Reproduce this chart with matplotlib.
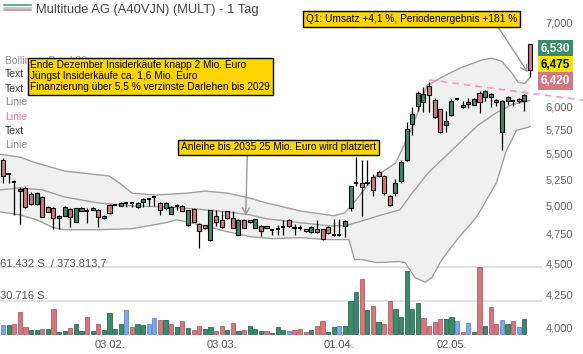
import numpy as np
import matplotlib.pyplot as plt
from matplotlib import transforms
from matplotlib.ticker import NullLocator

plt.rcParams['font.family'] = ['Liberation Sans', 'DejaVu Sans']

# daily candles, 95 sessions (06.01. - 22.05.)
opens = [5440, 5300, 5225, 5140, 5167, 5110, 5018, 5082, 4991, 4982,
         4892, 4910, 4973, 4857, 4955, 4955, 4964, 4964, 4892, 5010,
         5010, 5000, 5030, 5030, 4991, 5040, 5065, 5085, 5030, 4985,
         4928, 4997, 5000, 4830, 4973, 4840, 4825, 4695, 4910, 4874,
         4950, 4890, 4743, 4874, 4868, 4803, 4820, 4815, 4785, 4790,
         4810, 4874, 4800, 4800, 4790, 4765, 4790, 4790, 4810, 4740,
         4740, 4820, 4980, 5210, 5215, 5210, 5270, 5320, 5280, 5090,
         5115, 5235, 5438, 5813, 6010, 6050, 6230, 6075, 5970, 5805,
         5910, 6080, 5995, 6030, 6020, 6155, 6110, 6100, 6055, 5725,
         6060, 6065, 6085, 6065, 6725]
highs = [5460, 5305, 5245, 5175, 5185, 5125, 5130, 5095, 5000, 4990,
         4915, 4995, 4980, 4985, 4990, 4985, 4990, 4970, 4915, 5015,
         5015, 5035, 5035, 5035, 5035, 5070, 5068, 5090, 5035, 5035,
         4995, 5020, 5010, 4960, 4980, 4845, 4830, 4960, 4964, 4955,
         4955, 4950, 4880, 4880, 4872, 4885, 4825, 4820, 4790, 4830,
         4870, 4880, 4840, 4830, 4795, 4815, 4870, 4795, 4815, 4885,
         4885, 4870, 5190, 5471, 5440, 5440, 5300, 5340, 5290, 5100,
         5250, 5440, 5830, 5995, 6175, 6215, 6280, 6090, 5975, 5955,
         6080, 6090, 6060, 6095, 6095, 6175, 6185, 6150, 6080, 6075,
         6115, 6075, 6090, 6135, 6735]
lows = [5215, 5215, 4920, 4840, 4983, 5010, 5010, 4895, 4940, 4795,
        4795, 4905, 4812, 4850, 4950, 4848, 4960, 4812, 4885, 4930,
        5005, 4995, 4990, 4990, 4985, 4990, 5000, 5000, 4915, 4960,
        4925, 4960, 4950, 4815, 4850, 4624, 4795, 4690, 4815, 4805,
        4885, 4800, 4740, 4800, 4845, 4800, 4728, 4800, 4740, 4740,
        4740, 4810, 4740, 4780, 4770, 4760, 4760, 4700, 4750, 4735,
        4735, 4720, 4950, 5190, 4905, 5195, 5090, 5270, 5100, 5000,
        5090, 5210, 5425, 5690, 5955, 5940, 5940, 5880, 5720, 5725,
        5900, 6070, 5985, 5985, 6015, 5930, 6060, 5990, 6010, 5535,
        6020, 6000, 6040, 5955, 6330]
closes = [5280, 5300, 5225, 5158, 4991, 5018, 5120, 4900, 4946, 4892,
          4910, 4991, 4900, 4982, 4982, 4955, 4982, 4900, 4910, 4937,
          5010, 5030, 5030, 5030, 5030, 5065, 5065, 5085, 4964, 5030,
          4991, 4997, 4955, 4958, 4857, 4777, 4803, 4958, 4850, 4812,
          4890, 4803, 4874, 4803, 4850, 4880, 4777, 4805, 4785, 4790,
          4810, 4817, 4800, 4800, 4775, 4810, 4765, 4706, 4755, 4740,
          4740, 4865, 5186, 5210, 5180, 5210, 5150, 5280, 5120, 5010,
          5210, 5420, 5757, 5920, 6147, 6140, 6130, 5890, 5730, 5840,
          6065, 6080, 6020, 6045, 6085, 6050, 6175, 6140, 6070, 6065,
          6110, 6065, 6060, 6130, 6420]

# volume (last session has none yet)
volumes = [8600, 8000, 8900, 20000, 6100, 3700, 3700, 4300, 4600, 22700,
           1800, 2800, 5800, 9500, 2500, 15400, 2500, 9500, 3700, 19000,
           4600, 9200, 21800, 6100, 9200, 8000, 9500, 14700, 12600, 12600,
           9500, 6500, 11700, 5200, 3700, 7100, 4600, 6500, 2800, 7400,
           3400, 9800, 2800, 3400, 7400, 4900, 2800, 2800, 600, 6500,
           4000, 2500, 3700, 4300, 1500, 3700, 7100, 12000, 1800, 6100,
           7100, 7100, 29800, 38400, 50100, 21800, 25500, 10800, 9200, 29800,
           23300, 15700, 57400, 23000, 28600, 14400, 7700, 11400, 14100, 13800,
           15400, 11700, 1800, 9800, 1800, 61432, 7400, 24300, 9500, 13200,
           8900, 12000, 6500, 13800]
vol_kind = ("bgrrrggrgr" "ggrggrgrgg" "ggbrggbbrg" "rgrgrrggrr" "grgrgggrgg"
            "gbrrrgrrgg" "bgggrgrgrr" "gggggrrrrg" "gbrbgrgrrb" "grbg")

# bollinger band 20 at sample sessions
upper_x = [-0.55, 3, 6, 11, 19, 21, 23, 27, 33, 36, 40, 44, 47, 53, 59, 61, 63, 66, 70, 72,
           74, 75.6, 78.8, 81.8, 85.4, 87.2, 89, 90.7, 91.9, 93.1, 94]
upper_y = [5497, 5468, 5408, 5330, 5281, 5204, 5119, 5100, 5119, 5138, 5119, 5072, 5027, 4954,
           4910, 4937, 5055, 5261, 5408, 5639, 5935, 6234, 6349, 6446, 6533, 6557, 6517, 6387,
           6272, 6260, 6329]
mid_x = [-0.55, 3, 7, 11, 17, 23, 29, 34, 40, 44, 47, 53, 58, 61, 63.6, 67, 70.8, 73, 75.8,
         78.8, 81.9, 84.7, 87.8, 90.8, 94]
mid_y = [5149, 5167, 5149, 5082, 5027, 5000, 4991, 4973, 4945, 4919, 4883, 4848, 4821, 4821,
         4857, 4910, 4964, 5119, 5310, 5468, 5639, 5796, 5924, 6022, 6066]
low_x = [-0.55, 3, 6, 9, 11, 17, 23, 29, 31, 35, 40, 44, 48, 53, 58, 61, 61.7, 62.7, 64, 66.4,
         67.6, 70.5, 71.7, 73.5, 75.3, 76.5, 78.3, 81, 84.5, 88, 89.8, 91.6, 93.6, 94]
low_y = [4945, 4919, 4874, 4803, 4786, 4786, 4795, 4848, 4874, 4830, 4769, 4726, 4708, 4717,
         4700, 4700, 4700, 4531, 4531, 4507, 4507, 4515, 4507, 4384, 4346, 4384, 4531, 4700,
         4901, 5214, 5537, 5743, 5774, 5785]

trend_x = [76, 103.5]
trend_y = [6300, 6070]

date_pos = [19, 39, 60, 80]
date_labels = ['03.02.', '03.03.', '01.04.', '02.05.']
price_ticks = [4000, 4250, 4500, 4750, 5000, 5250, 5500, 5750, 6000, 7000]
vol_levels = [61432, 30716]
vol_level_labels = ['61.432 S. / 373.813,7', '30.716 S.']
tag_values = [6530, 6475, 6420]
legend_items = ['Bollinger Band 20', 'Text', 'Text', 'Linie', 'Linie', 'Text', 'Linie']

title = 'Multitude AG (A40VJN) (MULT) - 1 Tag'
note1 = ('Ende Dezember Insiderkäufe knapp 2 Mio. Euro\n'
         'Jüngst Insiderkäufe ca. 1,6 Mio. Euro\n'
         'Finanzierung über 5,5 % verzinste Darlehen bis 2029')
note2 = 'Anleihe bis 2035 25 Mio. Euro wird platziert'
note3 = 'Q1: Umsatz +4,1 %, Periodenergebnis +181 %'

# ---- layout (pixels) ----
W, H = 583, 354
def fx(x): return x / W
def fy(y): return 1 - y / H

X0, DX = 3, 5.606          # first candle px, px per session
Y6000, PXDEC = 106.5, 1255  # price calibration of log axis
def price_at(y): return 6000 * 10 ** ((Y6000 - y) / PXDEC)

GREEN, RED, BLUE = '#3b8a6c', '#d47880', '#7ea8ea'
YELLOW = '#ffd400'

fig = plt.figure(figsize=(W / 100, H / 100), dpi=100)
ax = fig.add_axes([0, fy(337), 537 / W, 337 / H])
vax = fig.add_axes([0, fy(334), 537 / W, (334 - 267) / H])
vax.set_zorder(2)
vax.patch.set_visible(False)

xlim = ((0 - X0) / DX, (537 - X0) / DX)
ax.set_yscale('log')
ax.set_xlim(*xlim)
ax.set_ylim(price_at(337), price_at(0))
vax.set_xlim(*xlim)
vax.set_ylim(0, vol_levels[0])

o, h, l, c = map(np.array, (opens, highs, lows, closes))
x = np.arange(len(o))

# volume reference lines (behind the band)
tr = transforms.blended_transform_factory(ax.transAxes, vax.transData)
for lv in vol_levels:
    ax.plot([0, 1.008], [lv, lv], transform=tr, color='#e2e2e2', lw=1.5, zorder=0.5, clip_on=False)

# bollinger band
ax.fill(np.r_[upper_x, low_x[::-1]], np.r_[upper_y, low_y[::-1]], color='#f0f0f0', lw=0, zorder=1)
for bx, by in [(upper_x, upper_y), (mid_x, mid_y), (low_x, low_y)]:
    ax.plot(bx, by, color='#a0a0a0', lw=1, zorder=1.5)

ax.plot(trend_x, trend_y, color='#f49ac8', lw=1.2, ls=(0, (4, 3)), zorder=2, clip_on=False)

# candles
ax.vlines(x, l, h, color='black', lw=0.9, zorder=3)
up = c > o
dn = c < o
dj = c == o
ax.bar(x[up], (c - o)[up], bottom=o[up], width=0.72, color=GREEN, edgecolor='black', lw=0.8, zorder=4)
ax.bar(x[dn], (o - c)[dn], bottom=c[dn], width=0.72, color=RED, edgecolor='black', lw=0.8, zorder=4)
ax.hlines(c[dj], x[dj] - 0.38, x[dj] + 0.38, color='black', lw=1.4, zorder=4)

# volume bars
cmap = {'g': GREEN, 'r': RED, 'b': BLUE}
edge = {'g': '#2a6b52', 'r': '#b85c66', 'b': '#5c89cf'}
vx = np.arange(len(volumes))
vax.bar(vx, volumes, width=0.75, color=[cmap[k] for k in vol_kind],
        edgecolor=[edge[k] for k in vol_kind], lw=0.6, clip_on=False)
vax.axis('off')

# axes styling
for s in ax.spines.values():
    s.set_visible(False)
ax.yaxis.tick_right()
ax.yaxis.set_minor_locator(NullLocator())
ax.set_yticks(price_ticks)
ax.set_yticklabels([f'{p:,}' for p in price_ticks])
ax.tick_params(axis='y', length=0, pad=6, labelsize=8, colors='#666666')
ax.set_xticks(date_pos)
ax.set_xticklabels(date_labels)
ax.tick_params(axis='x', length=0, pad=2, labelsize=8, colors='#555555')

# current price tags
tag_tr = transforms.blended_transform_factory(ax.transAxes, ax.transData)
tag_style = [(GREEN, 'white', 16), ('#f2e600', 'black', 0), (RED, 'white', -16)]
for val, (bg, fg, off) in zip(tag_values, tag_style):
    t = transforms.offset_copy(tag_tr, fig=fig, y=off, units='dots')
    ax.text(1.0075, tag_values[1], f'{val:,}', transform=t, ha='left', va='center',
            fontsize=8.5, fontweight='bold', color=fg, clip_on=False, zorder=8,
            bbox=dict(boxstyle='square,pad=0.22', fc=bg, ec='none'))

# header + legend column
ic = ['#4f9a7f', '#c0c0c0', '#d9868c']
for i, col in enumerate(ic):
    yy = fy(5 + i * 2.7)
    fig.add_artist(plt.Line2D([fx(4), fx(31)], [yy, yy], color=col, lw=1.2))
fig.text(fx(36), fy(9.5), title, va='center', fontsize=9.3, color='#444444')
leg_y = [61, 74, 89, 102, 117, 131, 145]
leg_c = ['#888888', '#333333', '#333333', '#888888', '#ee6fa8', '#333333', '#888888']
for txt, yy, col in zip(legend_items, leg_y, leg_c):
    fig.text(fx(5), fy(yy), txt, va='center', fontsize=7.5, color=col)

for lab, yy in zip(vol_level_labels, [263, 296]):
    fig.text(fx(0), fy(yy), lab, va='center', fontsize=8, color='#555555')

# notes
box = dict(boxstyle='square,pad=0.25', fc=YELLOW, ec='black', lw=1)
fig.text(fx(30.5), fy(60.5), note1, va='top', ha='left', fontsize=7.3, linespacing=1.1,
         bbox=box, zorder=6)
arrow = dict(arrowstyle='->,head_length=0.6,head_width=0.35', color='#999999', lw=1,
             shrinkA=0, shrinkB=0)
ax.annotate(note2, xy=(43.3, 4915), xycoords='data', xytext=(181, H - 147.5),
            textcoords='figure pixels', ha='left', va='center', fontsize=7.25, bbox=box,
            arrowprops=dict(arrow, relpos=(0.34, 0)), annotation_clip=False, zorder=6)
ax.annotate(note3, xy=(93.6, 6390), xycoords='data', xytext=(306, H - 19),
            textcoords='figure pixels', ha='left', va='center', fontsize=7.3, bbox=box,
            arrowprops=dict(arrow, relpos=(0.9, 0)), annotation_clip=False, zorder=6)

fig.savefig('out.png', dpi=100)
